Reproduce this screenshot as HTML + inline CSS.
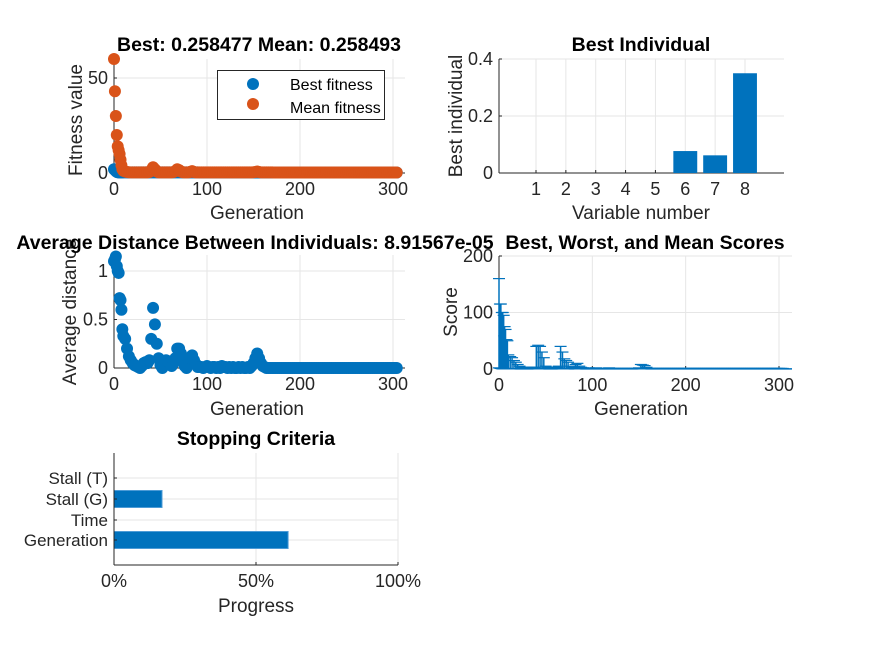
<!DOCTYPE html>
<html><head><meta charset="utf-8"><style>
html,body{margin:0;padding:0;background:#fff;}
svg{display:block;font-family:"Liberation Sans",Arial,sans-serif;}
</style></head><body>
<svg id="fig" width="875" height="656" viewBox="0 0 875 656" xmlns="http://www.w3.org/2000/svg">
<rect width="875" height="656" fill="#fff"/>
</svg>
<script>
// ---------- data ----------
const gens = [0,1,2,3,4,5,6,7,8,9,10,12,14,16,18,20,22,24,26,28,30,32,34,36,38,40,42,44,46,48,50,52,54,56,58,60,62,64,66,68,70,72,74,76,78,80,82,84,86,88,90,92,94,96,98,100,102,104,106,108,110,112,114,116,118,120,122,124,126,128,130,132,134,136,138,140,142,144,146,148,150,152,154,156,158,160,162,164,166,168,170,172,174,176,178,180,182,184,186,188,190,192,194,196,198,200,202,204,206,208,210,212,214,216,218,220,222,224,226,228,230,232,234,236,238,240,242,244,246,248,250,252,254,256,258,260,262,264,266,268,270,272,274,276,278,280,282,284,286,288,290,292,294,296,298,300,302,304];
const meanFitness = [60,43,30,20,14,12,10,7,4,2,1.2,
0.8,0.5,0.4,0.3,0.3,0.3,0.3,0.3,0.3,0.3,
0.3,0.3,0.3,0.5,1.5,3,2,0.8,0.3,0.3,
0.3,0.3,0.3,0.3,0.3,0.3,0.5,1,2,1.5,
0.8,0.4,0.3,0.3,0.3,0.6,1,0.5,0.3,0.3,
0.3,0.3,0.3,0.3,0.3,0.3,0.3,0.3,0.3,0.3,
0.3,0.3,0.3,0.3,0.3,0.3,0.3,0.3,0.3,0.3,
0.3,0.3,0.3,0.3,0.3,0.3,0.3,0.3,0.3,0.4,
0.5,0.8,0.5,0.3,0.3,0.3,0.3,0.3,0.3,0.3,
0.26,0.26,0.26,0.26,0.26,0.26,0.26,0.26,0.26,0.26,
0.26,0.26,0.26,0.26,0.26,0.26,0.26,0.26,0.26,0.26,
0.26,0.26,0.26,0.26,0.26,0.26,0.26,0.26,0.26,0.26,
0.26,0.26,0.26,0.26,0.26,0.26,0.26,0.26,0.26,0.26,
0.26,0.26,0.26,0.26,0.26,0.26,0.26,0.26,0.26,0.26,
0.26,0.26,0.26,0.26,0.26,0.26,0.26,0.26,0.26,0.26,
0.26,0.26,0.26,0.26,0.26,0.26,0.26];
const bestFitness = [2,1.5,1,0.6,0.4,0.3,0.3,0.3,0.3,0.3,0.3,
0.3,0.3,0.3,0.3,0.3,0.3,0.3,0.3,0.3,0.3,
0.3,0.3,0.3,0.3,0.3,0.3,0.3,0.3,0.3,0.3,
0.3,0.3,0.3,0.3,0.3,0.3,0.3,0.3,0.3,0.3,
0.3,0.3,0.3,0.3,0.3,0.3,0.3,0.3,0.3,0.3,
0.26,0.26,0.26,0.26,0.26,0.26,0.26,0.26,0.26,0.26,
0.26,0.26,0.26,0.26,0.26,0.26,0.26,0.26,0.26,0.26,
0.26,0.26,0.26,0.26,0.26,0.26,0.26,0.26,0.26,0.26,
0.26,0.26,0.26,0.26,0.26,0.26,0.26,0.26,0.26,0.26,
0.26,0.26,0.26,0.26,0.26,0.26,0.26,0.26,0.26,0.26,
0.26,0.26,0.26,0.26,0.26,0.26,0.26,0.26,0.26,0.26,
0.26,0.26,0.26,0.26,0.26,0.26,0.26,0.26,0.26,0.26,
0.26,0.26,0.26,0.26,0.26,0.26,0.26,0.26,0.26,0.26,
0.26,0.26,0.26,0.26,0.26,0.26,0.26,0.26,0.26,0.26,
0.26,0.26,0.26,0.26,0.26,0.26,0.26,0.26,0.26,0.26,
0.26,0.26,0.26,0.26,0.26,0.26,0.26];
const avgDistance = [1.1,1.12,1.15,1.05,1.0,0.98,0.72,0.7,0.6,0.4,0.33,
0.3,0.2,0.12,0.08,0.05,0.03,0.02,0.01,0.0,0.02,
0.05,0.06,0.05,0.08,0.3,0.62,0.45,0.25,0.1,0.03,
0.0,0.05,0.08,0.07,0.05,0.02,0.05,0.1,0.2,0.2,
0.15,0.08,0.02,0.0,0.05,0.1,0.13,0.08,0.04,0.01,
0.01,0.01,0.0,0.01,0.02,0.01,0.0,0.01,0.01,0.0,
0.01,0.0,0.02,0.01,0.01,0.0,0.01,0.0,0.01,0.0,
0,0.01,0,0.01,0,0,0.01,0,0.02,0.05,
0.1,0.15,0.1,0.05,0.02,0.01,0,0,0,0,
0,0,0,0,0,0,0,0,0,0,
0,0,0,0,0,0,0,0,0,0,
0,0,0,0,0,0,0,0,0,0,
0,0,0,0,0,0,0,0,0,0,
0,0,0,0,0,0,0,0,0,0,
0,0,0,0,0,0,0,0,0,0,
0,0,0,0,0,0,0];
const worstScore = [160,115,115,100,100,95,75,70,52,50,25,
22,20,15,12,8,5,3,3,3,3,
3,3,3,3,40,42,40,30,20,5,
3,3,3,3,3,3,5,40,30,18,
15,12,5,3,3,8,10,5,3,2,
1,1,2,1,1,1,2,1,1,1,
1,1,1,2,1,1,1,1,1,1,
1,1,1,1,1,1,1,1,1,2,
8,7,6,3,1,1,1,1,1,1,
1,1,1,1,1,1,1,1,1,1,
1,1,1,1,1,1,1,1,1,1,
1,1,1,1,1,1,1,1,1,1,
1,1,1,1,1,1,1,1,1,1,
1,1,1,1,1,1,1,1,1,1,
1,1,1,1,1,1,1,1,1,1,
1,1,1,1,1,1,1];
const varNumbers = [1,2,3,4,5,6,7,8];
const bestIndividual = [0,0,0,0,0,0.077,0.062,0.35];
const stopCategories = ["Stall (T)","Stall (G)","Time","Generation"];
const stopProgress = [0,16.9,0,61.3];

// ---------- helpers ----------
const NS="http://www.w3.org/2000/svg";
const svg=document.getElementById('fig');
const BLUE="#0072BD", ORANGE="#D95319", AX="#262626", GRID="#e6e6e6";
const TICK=18, LAB=19, TIT=19.5;
function el(tag, attrs, parent){const e=document.createElementNS(NS,tag);for(const k in attrs)e.setAttribute(k,attrs[k]);(parent||svg).appendChild(e);return e;}
function lin(d0,d1,r0,r1){return v=>r0+(v-d0)*(r1-r0)/(d1-d0);}
function txt(s,x,y,opts,parent){const t=el('text',Object.assign({x:x,y:y,fill:AX,'font-size':TICK},opts||{}),parent);t.textContent=s;return t;}

function axes(name, box, sx, sy, xt, yt, xtl, ytl){
  const g=el('g',{});
  
  
  xt.forEach(v=>el('line',{x1:sx(v),x2:sx(v),y1:box.t,y2:box.b,stroke:GRID,'stroke-width':1},g));
  yt.forEach(v=>el('line',{x1:box.l,x2:box.r,y1:sy(v),y2:sy(v),stroke:GRID,'stroke-width':1},g));
  el('line',{x1:box.l,x2:box.l,y1:box.t,y2:box.b,stroke:AX,'stroke-width':1},g);
  el('line',{x1:box.l,x2:box.r,y1:box.b,y2:box.b,stroke:AX,'stroke-width':1},g);
  xt.forEach((v,i)=>{el('line',{x1:sx(v),x2:sx(v),y1:box.b,y2:box.b-3,stroke:AX},g);
    const t=txt(xtl[i],sx(v),box.b+22,{'text-anchor':'middle'},g);
    
    });
  yt.forEach((v,i)=>{el('line',{x1:box.l,x2:box.l+3,y1:sy(v),y2:sy(v),stroke:AX},g);
    const t=txt(ytl[i],box.l-6,sy(v)+6,{'text-anchor':'end'},g);
    
    });
  return g;
}

// ---------- Plot 1: fitness ----------
{
 const box={l:114,r:405,t:59,b:173};
 const sx=lin(0,300,114,393), sy=lin(0,50,173,78);
 const g=axes('fitness-axes',box,sx,sy,[0,100,200,300],[0,50],['0','100','200','300'],['0','50']);
 const sb=el('g',{},g);
 
 
 gens.forEach((x,i)=>el('circle',{cx:sx(x),cy:sy(bestFitness[i]),r:6,fill:BLUE},sb));
 const sm=el('g',{},g);
 
 
 gens.forEach((x,i)=>el('circle',{cx:sx(x),cy:sy(meanFitness[i]),r:6,fill:ORANGE},sm));
 const t=txt('Best: 0.258477 Mean: 0.258493',259,51,{'text-anchor':'middle','font-weight':'bold','font-size':TIT,fill:'#000'});
  
 const xl=txt('Generation',257,219,{'text-anchor':'middle','font-size':LAB});
  
 const yl=txt('Fitness value',0,0,{'text-anchor':'middle','font-size':LAB,transform:'translate(82,120) rotate(-90)'});
  
 const lg=el('g',{});
 
 
 el('rect',{x:217.5,y:70.5,width:167,height:49,fill:'#fff',stroke:'#262626','stroke-width':1},lg);
 el('circle',{cx:253,cy:84,r:6,fill:BLUE},lg);
 el('circle',{cx:253,cy:104,r:6,fill:ORANGE},lg);
 const l1=txt('Best fitness',290,90,{'font-size':16,fill:'#000'},lg);
  
 const l2=txt('Mean fitness',290,113,{'font-size':16,fill:'#000'},lg);
  
}

// ---------- Plot 2: best individual ----------
{
 const box={l:499,r:784,t:59,b:173};
 const sx=lin(1,8,536,745), sy=lin(0,0.4,173,59);
 const g=axes('best-individual-axes',box,sx,sy,varNumbers,[0,0.2,0.4],varNumbers.map(String),['0','0.2','0.4']);
 const bw=(sx(2)-sx(1))*0.8;
 varNumbers.forEach((v,i)=>{ if(bestIndividual[i]<=0) return;
   const r=el('rect',{x:sx(v)-bw/2,y:sy(bestIndividual[i]),width:bw,height:sy(0)-sy(bestIndividual[i]),fill:BLUE},g);
   
   });
 const t=txt('Best Individual',641,51,{'text-anchor':'middle','font-weight':'bold','font-size':TIT,fill:'#000'});
  
 const xl=txt('Variable number',641,219,{'text-anchor':'middle','font-size':LAB});
  
 const yl=txt('Best individual',0,0,{'text-anchor':'middle','font-size':LAB,transform:'translate(462,116) rotate(-90)'});
  
}

// ---------- Plot 3: average distance ----------
{
 const box={l:114,r:405,t:255,b:368};
 const sx=lin(0,300,114,393), sy=lin(0,1,368,271);
 const g=axes('distance-axes',box,sx,sy,[0,100,200,300],[0,0.5,1],['0','100','200','300'],['0','0.5','1']);
 const s=el('g',{},g);
 
 
 gens.forEach((x,i)=>el('circle',{cx:sx(x),cy:sy(avgDistance[i]),r:6,fill:BLUE},s));
 const yl=txt('Average distance',0,0,{'text-anchor':'middle','font-size':LAB,transform:'translate(76,312) rotate(-90)'});
  
 const t=txt('Average Distance Between Individuals: 8.91567e-05',255,249,{'text-anchor':'middle','font-weight':'bold','font-size':TIT,fill:'#000'});
  
 const xl=txt('Generation',257,415,{'text-anchor':'middle','font-size':LAB});
  
}

// ---------- Plot 4: scores range ----------
{
 const box={l:499,r:792,t:256,b:369};
 const sx=lin(0,300,499,779), sy=lin(0,200,369,256);
 const g=axes('scores-axes',box,sx,sy,[0,100,200,300],[0,100,200],['0','100','200','300'],['0','100','200']);
 const s=el('g',{},g);
 
 
 gens.forEach((x,i)=>{
   el('line',{x1:sx(x),x2:sx(x),y1:sy(bestFitness[i]),y2:sy(worstScore[i]),stroke:BLUE,'stroke-width':1.5},s);
   el('line',{x1:sx(x)-6,x2:sx(x)+6,y1:sy(worstScore[i]),y2:sy(worstScore[i]),stroke:BLUE,'stroke-width':1.2},s);
   el('line',{x1:sx(x)-6,x2:sx(x)+6,y1:sy(bestFitness[i]),y2:sy(bestFitness[i]),stroke:BLUE,'stroke-width':1.2},s);
 });
 el('polyline',{points:gens.map((x,i)=>sx(x)+','+sy(meanFitness[i])).join(' ')+' 792,'+sy(0.26),fill:'none',stroke:BLUE,'stroke-width':1.5},s);
 const t=txt('Best, Worst, and Mean Scores',645,249,{'text-anchor':'middle','font-weight':'bold','font-size':TIT,fill:'#000'});
  
 const xl=txt('Generation',641,415,{'text-anchor':'middle','font-size':LAB});
  
 const yl=txt('Score',0,0,{'text-anchor':'middle','font-size':LAB,transform:'translate(457,312) rotate(-90)'});
  
}

// ---------- Plot 5: stopping criteria ----------
{
 const box={l:114,r:398,t:453,b:565};
 const sx=lin(0,100,114,398);
 const catY=[478,499,520,540];
 const sy=i=>catY[i];
 const g=el('g',{});
 
 
 [0,50,100].forEach(v=>el('line',{x1:sx(v),x2:sx(v),y1:box.t,y2:box.b,stroke:GRID},g));
 stopCategories.forEach((c,i)=>el('line',{x1:box.l,x2:box.r,y1:sy(i),y2:sy(i),stroke:GRID},g));
 stopCategories.forEach((c,i)=>{ if(stopProgress[i]<=0) return;
   const r=el('rect',{x:sx(0),y:sy(i)-8.5,width:sx(stopProgress[i])-sx(0),height:17,fill:BLUE,stroke:'#4d9bd6','stroke-width':1},g);
   
   });
 el('line',{x1:box.l,x2:box.l,y1:box.t,y2:box.b,stroke:AX},g);
 el('line',{x1:box.l,x2:box.r,y1:box.b,y2:box.b,stroke:AX},g);
 [0,50,100].forEach(v=>{el('line',{x1:sx(v),x2:sx(v),y1:box.b,y2:box.b-3,stroke:AX},g);
   const t=txt(v+'%',sx(v),box.b+22,{'text-anchor':'middle'},g);
    });
 stopCategories.forEach((c,i)=>{el('line',{x1:box.l,x2:box.l+3,y1:sy(i),y2:sy(i),stroke:AX},g);
   const t=txt(c,box.l-6,sy(i)+6,{'text-anchor':'end','font-size':17},g);
    });
 const t=txt('Stopping Criteria',256,445,{'text-anchor':'middle','font-weight':'bold','font-size':TIT,fill:'#000'});
  
 const xl=txt('Progress',256,612,{'text-anchor':'middle','font-size':LAB});
  
}
</script>
</body></html>
